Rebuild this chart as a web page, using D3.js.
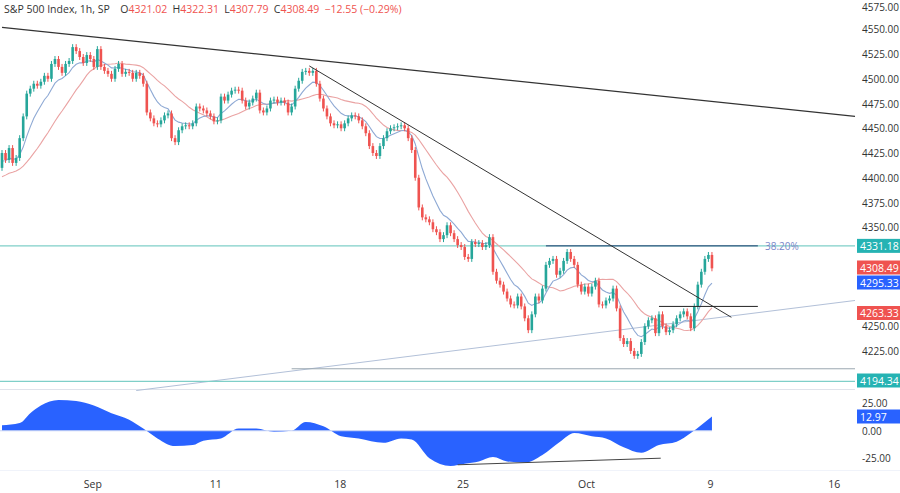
<!DOCTYPE html>
<html>
<head>
<meta charset="utf-8">
<script src="https://cdn.jsdelivr.net/npm/d3@7"></script>
<style>
  body { margin: 0; background: #fff; font-family: "Open Sans", "Noto Sans", sans-serif; }
  svg text { font-family: "Open Sans", "Noto Sans", sans-serif; }
</style>
</head>
<body>
<svg id="chart" width="900" height="493"></svg>
<script>
// hourly closes (open = previous close)
const closes = [4425,4418,4430,4415,4420,4440,4462,4485,4490,4495,4493,4497,4503,4500,4515,4520,4512,4506,4515,4518,
  4532,4528,4522,4516,4524,4520,4512,4530,4512,4508,4505,4500,4510,4515,4505,4507,4506,4500,4506,4503,
  4495,4466,4460,4455,4454,4458,4463,4465,4440,4436,4448,4452,4453,4452,4455,4472,4470,4468,4465,4462,
  4457,4458,4482,4478,4484,4488,4489,4488,4478,4472,4476,4480,4486,4468,4466,4470,4478,4479,4476,4478,
  4476,4466,4472,4490,4498,4507,4508,4506,4508,4495,4480,4470,4462,4455,4453,4454,4450,4455,4460,4463,
  4462,4458,4452,4445,4432,4425,4422,4432,4440,4447,4450,4451,4452,4453,4450,4440,4428,4400,4370,4360,
  4358,4355,4348,4345,4338,4342,4352,4344,4338,4332,4330,4320,4318,4335,4333,4334,4330,4332,4340,4305,
  4296,4292,4285,4278,4272,4271,4280,4270,4258,4246,4262,4280,4276,4288,4312,4316,4318,4302,4306,4316,
  4325,4318,4312,4292,4285,4290,4283,4290,4296,4272,4271,4276,4278,4288,4268,4238,4232,4235,4225,4220,
  4222,4234,4250,4256,4258,4243,4262,4250,4244,4246,4252,4258,4262,4265,4260,4248,4270,4292,4305,4318,
  4322,4308.49];
const firstOpen = 4410;
const wick = 3;
const fastSeed = 4415;
// closes before the visible window, used to warm up the slow average
const priorCloses = [4385,4390,4395,4398,4400,4402,4405,4403,4400,4398,4395,4392,4395,4400,4402,4405,4408,4410,4412];

// last values as printed on the scale
const fastLast = 4295.33, slowLast = 4263.33, oscLast = 12.97;

// oscillator read at bar positions
const oscIdx = [0,5,8,11,16,21,26,31,36,40,44,49,54,57,62,67,72,77,82,86,91,96,101,108,113,116,121,127,131,135,139,143,148,153,158,162,167,171,176,181,186,191,195,201];
const oscVal = [5,7,16,23,28,27,23,16,10,2,-7,-14,-13,-9,-7,2,2,-1,0,8,4,-5,-7,-11,-7,-8,-25,-32,-30,-28,-24,-28,-29,-22,-10,-2,-5,-7,-15,-20,-13,-10,-2,13];

const priceTicks = [4200,4225,4250,4275,4300,4325,4350,4375,4400,4425,4450,4475,4500,4525,4550,4575];
const oscTicks = [25, 0, -25];
const dateLabels = ["Sep","11","18","25","Oct","9","16"];
const datePos = [25.7,60.5,95.8,130.5,165.5,200.6,235.6];

// drawings [bar, price]
const mainTrend = [[0,4552],[241.5,4462]];
const innerTrend = [[87,4513],[206.5,4259]];
const riseLine = [[38,4185],[241.5,4276]];
const fib = 4331.18, fibLo = 4194.34;
const fibShort = [154, 214];
const neck = [[186,4270],[214,4270]];
const floorLine = [[82,4207],[241.5,4207]];
const divLine = [[129,-31],[186.5,-25]];

const svg = d3.select("#chart");
const W = 855;
const x = d3.scaleLinear().domain([0, 241.5]).range([2, W]);
const y = d3.scaleLinear().domain([4200, 4550]).range([375.7, 29.3]);
const yo = d3.scaleLinear().domain([-25, 25]).range([458.2, 403.3]);

const GREEN = "#26a69a", RED = "#ef5350";

const ema = (arr, n, seed) => {
  const k = 2 / (n + 1); let v = seed;
  return arr.map(c => (v = c * k + v * (1 - k)));
};
const sma = (arr, n, prior) => {
  const all = prior.concat(arr);
  return arr.map((c, i) => d3.mean(all.slice(i + prior.length - n + 1, i + prior.length + 1)));
};
const fast = ema(closes, 9, fastSeed);
const slow = sma(closes, 20, priorCloses);

// separators
svg.append("line").attr("x1", 0).attr("x2", W).attr("y1", 389.5).attr("y2", 389.5).attr("stroke", "#e0e3eb");
svg.append("line").attr("x1", 0).attr("x2", 900).attr("y1", 470.5).attr("y2", 470.5).attr("stroke", "#f0f3fa");

const line = d3.line().x(d => x(d[0])).y(d => y(d[1]));

svg.append("path").attr("d", line(riseLine)).attr("stroke", "#b2c0d8").attr("stroke-width", 1).attr("fill", "none");
svg.append("path").attr("d", line(floorLine)).attr("stroke", "#9aa7b0").attr("stroke-width", 1).attr("fill", "none");
svg.append("line").attr("x1", 0).attr("x2", W).attr("y1", y(fib)).attr("y2", y(fib)).attr("stroke", "#7fcfc8").attr("stroke-width", 1.3);
svg.append("line").attr("x1", 0).attr("x2", W).attr("y1", y(fibLo)).attr("y2", y(fibLo)).attr("stroke", "#7fcfc8").attr("stroke-width", 1.3);
svg.append("line").attr("x1", x(fibShort[0])).attr("x2", x(fibShort[1])).attr("y1", y(fib)).attr("y2", y(fib)).attr("stroke", "#1e3a6e").attr("stroke-width", 1);
svg.append("text").attr("x", 765).attr("y", y(fib) + 4).attr("font-size", 10).attr("fill", "#7a86c8").text("38.20%");

// MAs
const maLine = d3.line().x((d, i) => x(i)).y(d => y(d));
svg.append("path").attr("d", maLine(slow)).attr("stroke", "#eaa3a3").attr("stroke-width", 1.1).attr("fill", "none");
svg.append("path").attr("d", maLine(fast)).attr("stroke", "#8ea9d4").attr("stroke-width", 1.1).attr("fill", "none");

// candles
const bars = closes.map((c, i) => {
  const o = i === 0 ? firstOpen : closes[i - 1];
  return { i, o, c, h: Math.max(o, c) + wick, l: Math.min(o, c) - wick };
});
const g = svg.append("g");
g.selectAll("line.w").data(bars).enter().append("line")
  .attr("x1", d => x(d.i)).attr("x2", d => x(d.i))
  .attr("y1", d => y(d.h)).attr("y2", d => y(d.l))
  .attr("stroke", d => d.c >= d.o ? GREEN : RED);
g.selectAll("rect").data(bars).enter().append("rect")
  .attr("x", d => x(d.i) - 1.3).attr("width", 2.6)
  .attr("y", d => y(Math.max(d.o, d.c)))
  .attr("height", d => Math.max(1, Math.abs(y(d.o) - y(d.c))))
  .attr("fill", d => d.c >= d.o ? GREEN : RED);

svg.append("path").attr("d", line(mainTrend)).attr("stroke", "#333").attr("stroke-width", 1.3).attr("fill", "none");
svg.append("path").attr("d", line(innerTrend)).attr("stroke", "#333").attr("stroke-width", 1).attr("fill", "none");
svg.append("path").attr("d", line(neck)).attr("stroke", "#222").attr("stroke-width", 1).attr("fill", "none");

// oscillator
const oscPts = oscIdx.map((b, k) => [b, oscVal[k]]);
svg.append("path")
  .attr("d", d3.area().x(d => x(d[0])).y0(yo(0)).y1(d => yo(d[1])).curve(d3.curveMonotoneX)(oscPts))
  .attr("fill", "#2962ff");
svg.append("line").attr("x1", 0).attr("x2", x(201)).attr("y1", yo(0)).attr("y2", yo(0)).attr("stroke", "#c7d3f5");
svg.append("path").attr("d", d3.line().x(d => x(d[0])).y(d => yo(d[1]))(divLine)).attr("stroke", "#444").attr("fill", "none");

// price tags; ticks hidden behind a tag are skipped
const tags = [
  [fib.toFixed(2), y(fib), "#26b3b3"],
  [closes[closes.length - 1].toFixed(2), 267.5, RED],
  [fastLast.toFixed(2), 282.5, "#2962ff"],
  [slowLast.toFixed(2), 313, RED],
  [fibLo.toFixed(2), 380.5, "#26b3b3"],
  [oscLast.toFixed(2), 416.5, "#2962ff"]
];
const free = yy => tags.every(t => Math.abs(t[1] - yy) > 12.5);

svg.selectAll("text.pt").data(priceTicks.filter(d => free(y(d)))).enter().append("text")
  .attr("x", 862).attr("y", d => Math.max(11, y(d) + 4)).attr("font-size", 10).attr("fill", "#333").text(d => d.toFixed(2));
svg.selectAll("text.ot").data(oscTicks.filter(d => free(yo(d)))).enter().append("text")
  .attr("x", 862).attr("y", d => yo(d) + 4).attr("font-size", 10).attr("fill", "#333").text(d => d.toFixed(2));

tags.forEach(([val, yy, bg]) => {
  svg.append("rect").attr("x", 857).attr("y", yy - 7).attr("width", 43).attr("height", 14).attr("fill", bg);
  svg.append("text").attr("x", 860).attr("y", yy + 4).attr("font-size", 10.5).attr("fill", "#fff").text(val);
});

// time axis
svg.selectAll("text.dt").data(datePos).enter().append("text")
  .attr("x", d => x(d)).attr("y", 488).attr("text-anchor", "middle").attr("font-size", 10.5)
  .attr("fill", "#333").text((d, i) => dateLabels[i]);

// header
const hdr = svg.append("text").attr("x", 4).attr("y", 13).attr("font-size", 10.5).attr("fill", "#333");
hdr.append("tspan").text("S&P 500 Index, 1h, SP\u2003");
[["O", "4321.02"], ["H", "4322.31"], ["L", "4307.79"], ["C", "4308.49"]].forEach(([k, v]) => {
  hdr.append("tspan").text(k);
  hdr.append("tspan").attr("fill", RED).text(v + "\u2002");
});
hdr.append("tspan").attr("fill", RED).text("−12.55 (−0.29%)");
</script>
</body>
</html>
